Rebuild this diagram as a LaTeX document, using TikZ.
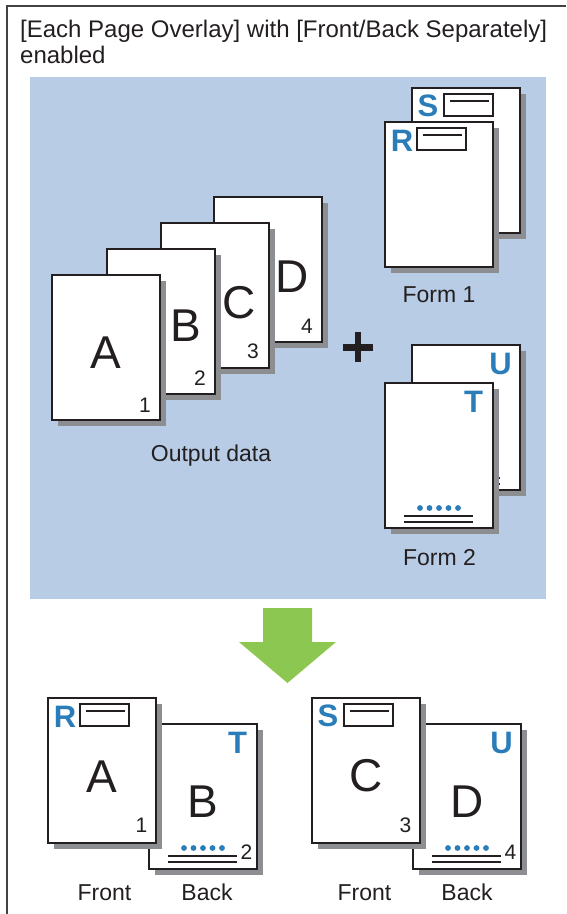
\documentclass[tikz,border=0pt]{standalone}
\usepackage{fontspec}
\setmainfont{Liberation Sans}
\usetikzlibrary{shadows}
\definecolor{bgblue}{HTML}{B8CCE6}
\definecolor{letblue}{HTML}{2A7DB8}
\definecolor{shgray}{HTML}{8C8E91}
\definecolor{arrgreen}{HTML}{8CC751}
\definecolor{ink}{HTML}{231F20}
\begin{document}
\begin{tikzpicture}[x=1pt,y=-1pt,
  page/.style={rectangle, draw=ink, line width=1.6pt, fill=white,
    minimum width=108pt, minimum height=145pt, inner sep=0pt, outer sep=0pt,
    anchor=north west,
    drop shadow={shadow xshift=6pt, shadow yshift=-6pt, fill=shgray, opacity=1}},
  big/.style={font=\fontsize{46}{46}\selectfont, inner sep=0pt, text=ink},
  num/.style={font=\fontsize{21}{21}\selectfont, inner sep=0pt, text=ink},
  formlet/.style={font=\fontsize{31}{31}\selectfont\bfseries, text=letblue, inner sep=0pt},
  lbl/.style={font=\fontsize{23}{23}\selectfont, text=ink, anchor=base},
  ttl/.style={font=\fontsize{24}{24}\selectfont, text=ink, anchor=base west, inner sep=0pt},
  boxline/.style={draw=ink, line width=1.8pt},
  rule/.style={draw=ink, line width=1.4pt},
  bdot/.style={fill=letblue},
]
\useasboundingbox (0,0) rectangle (566,914);
% frame
\draw[line width=1.2pt, ink!85] (7,914) -- (7,6) -- (566,6);
% title
\node[ttl] (t1) at (20,37) {[Each Page Overlay] with [Front/Back Separately]};
\node[ttl] (t2) at (20,63) {enabled};
% blue area
\fill[bgblue] (30,77) rectangle (546,599);

% output data stack
\node[page] (pD) at (214,197) {};
\node[big] (lD) at ([shift={(78.5,80)}]pD.north west) {D};
\node[num] (nD) at ([shift={(93,129)}]pD.north west) {4};
\node[page] (pC) at (161,223) {};
\node[big] (lC) at ([shift={(78.5,80)}]pC.north west) {C};
\node[num] (nC) at ([shift={(92,128)}]pC.north west) {3};
\node[page] (pB) at (107,249) {};
\node[big] (lB) at ([shift={(79,77)}]pB.north west) {B};
\node[num] (nB) at ([shift={(93,129)}]pB.north west) {2};
\node[page] (pA) at (52,275) {};
\node[big] (lA) at ([shift={(54,78)}]pA.north west) {A};
\node[num] (nA) at ([shift={(93,130)}]pA.north west) {1};
\node[lbl] (out) at (211,461) {Output data};

% plus
\fill[ink] (343,344) rectangle (373,350.5);
\fill[ink] (354.75,332) rectangle (361.25,362);

% Form 1
\node[page] (pS) at (412,88) {};
\node[formlet] (lS) at ([shift={(16,18)}]pS.north west) {S};
\draw[boxline] ([shift={(32,6)}]pS.north west) rectangle ([shift={(81,28)}]pS.north west);
\draw[rule] ([shift={(38,13)}]pS.north west) -- ([shift={(77,13)}]pS.north west);
\node[page] (pR) at (385,122) {};
\node[formlet] (lR) at ([shift={(17,18.5)}]pR.north west) {R};
\draw[boxline] ([shift={(32,6)}]pR.north west) rectangle ([shift={(81,28)}]pR.north west);
\draw[rule] ([shift={(38,13)}]pR.north west) -- ([shift={(77,13)}]pR.north west);
\node[lbl] (f1) at (439,302) {Form 1};

% Form 2
\node[page] (pU) at (412,345) {};
\node[formlet] (lU) at ([shift={(88.5,18.5)}]pU.north west) {U};
\foreach \i in {0,...,4} \fill[bdot] ([shift={(35+9.5*\i,125)}]pU.north west) circle (2.9pt);
\draw[rule] ([shift={(19,133)}]pU.north west) -- ([shift={(88,133)}]pU.north west);
\draw[rule] ([shift={(19,139)}]pU.north west) -- ([shift={(88,139)}]pU.north west);
\node[page] (pT) at (385,383) {};
\node[formlet] (lT) at ([shift={(88.5,18.5)}]pT.north west) {T};
\foreach \i in {0,...,4} \fill[bdot] ([shift={(35+9.5*\i,125)}]pT.north west) circle (2.9pt);
\draw[rule] ([shift={(19,133)}]pT.north west) -- ([shift={(88,133)}]pT.north west);
\draw[rule] ([shift={(19,139)}]pT.north west) -- ([shift={(88,139)}]pT.north west);
\node[lbl] (f2) at (439.5,565) {Form 2};

% arrow
\fill[arrgreen] (263,608) -- (312,608) -- (312,642) -- (336,642) -- (287.5,683) -- (239,642) -- (263,642) -- cycle;

% bottom left
\node[page] (qB) at (149,724) {};
\node[formlet] (qT) at ([shift={(88.5,18.5)}]qB.north west) {T};
\node[big] (qlB) at ([shift={(54,77.5)}]qB.north west) {B};
\foreach \i in {0,...,4} \fill[bdot] ([shift={(35+9.5*\i,124)}]qB.north west) circle (2.9pt);
\draw[rule] ([shift={(19,132)}]qB.north west) -- ([shift={(88,132)}]qB.north west);
\draw[rule] ([shift={(19,138)}]qB.north west) -- ([shift={(88,138)}]qB.north west);
\node[num] (qn2) at ([shift={(97.5,128.5)}]qB.north west) {2};
\node[page] (qA) at (48,698) {};
\node[formlet] (qR) at ([shift={(17,18.5)}]qA.north west) {R};
\draw[boxline] ([shift={(32,6)}]qA.north west) rectangle ([shift={(81,28)}]qA.north west);
\draw[rule] ([shift={(38,13)}]qA.north west) -- ([shift={(77,13)}]qA.north west);
\node[big] (qlA) at ([shift={(54,78.5)}]qA.north west) {A};
\node[num] (qn1) at ([shift={(93.5,127.5)}]qA.north west) {1};
\node[lbl] (fr1) at (104.5,900) {Front};
\node[lbl] (bk1) at (207,900) {Back};

% bottom right
\node[page] (qD) at (413,724) {};
\node[formlet] (qU) at ([shift={(88.5,18.5)}]qD.north west) {U};
\node[big] (qlD) at ([shift={(54.5,77.5)}]qD.north west) {D};
\foreach \i in {0,...,4} \fill[bdot] ([shift={(35+9.5*\i,124)}]qD.north west) circle (2.9pt);
\draw[rule] ([shift={(19,132)}]qD.north west) -- ([shift={(88,132)}]qD.north west);
\draw[rule] ([shift={(19,138)}]qD.north west) -- ([shift={(88,138)}]qD.north west);
\node[num] (qn4) at ([shift={(97.5,128.5)}]qD.north west) {4};
\node[page] (qC) at (312,698) {};
\node[formlet] (qS) at ([shift={(16,18)}]qC.north west) {S};
\draw[boxline] ([shift={(32,6)}]qC.north west) rectangle ([shift={(81,28)}]qC.north west);
\draw[rule] ([shift={(38,13)}]qC.north west) -- ([shift={(77,13)}]qC.north west);
\node[big] (qlC) at ([shift={(54.5,78)}]qC.north west) {C};
\node[num] (qn3) at ([shift={(93.5,127.5)}]qC.north west) {3};
\node[lbl] (fr2) at (364.5,900) {Front};
\node[lbl] (bk2) at (467,900) {Back};
\end{tikzpicture}
\end{document}
